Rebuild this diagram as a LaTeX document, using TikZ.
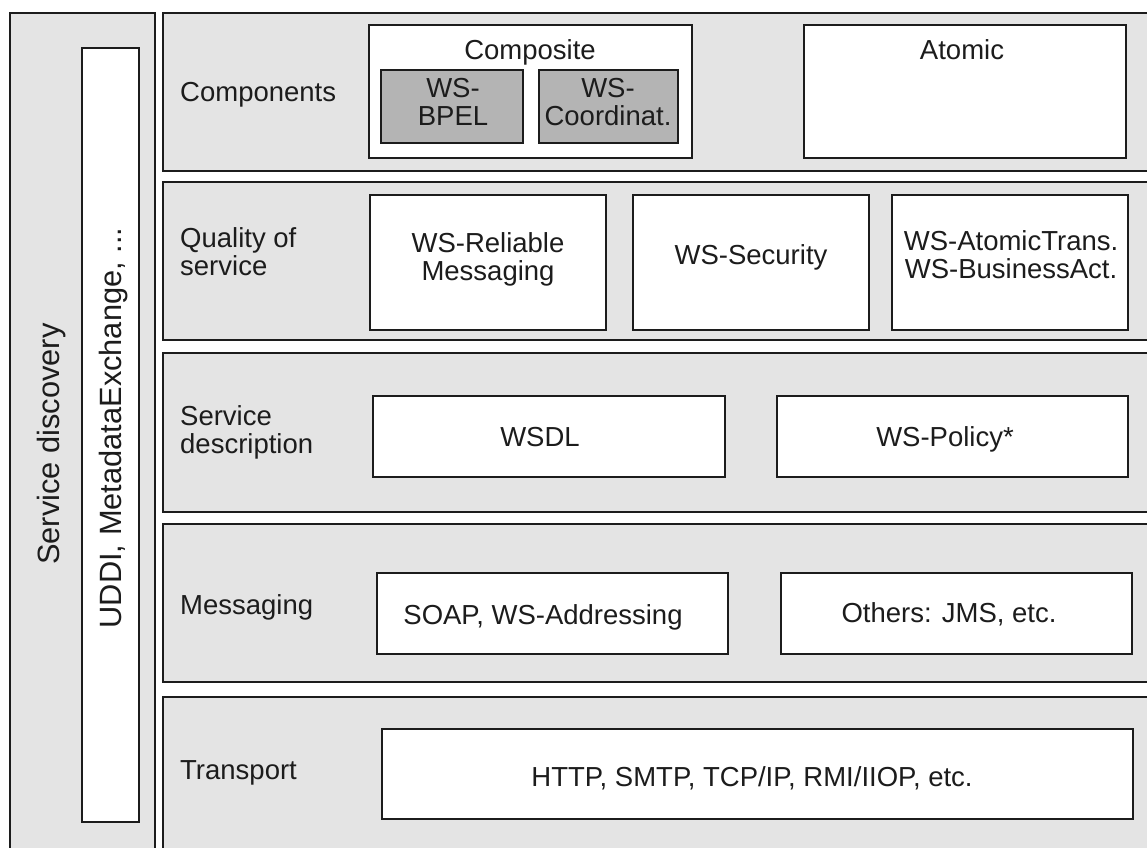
\documentclass[tikz,border=0pt]{standalone}
\usepackage{fontspec}
\setmainfont{Liberation Sans}
\definecolor{panel}{HTML}{E4E4E4}
\definecolor{inner}{HTML}{B4B4B4}
\definecolor{ink}{HTML}{1C1C1C}
\begin{document}
\begin{tikzpicture}[x=1pt,y=-1pt,
  font=\fontsize{27.5}{28}\selectfont,
  frame/.style={draw=ink, line width=2.5pt, inner sep=0pt, outer sep=0pt, anchor=north west},
  layer/.style={frame, fill=panel},
  box/.style={frame, fill=white},
  subbox/.style={frame, fill=inner},
  txt/.style={text=ink, inner sep=0pt, text height=19.8pt, text depth=0pt},
  vtxt/.style={text=ink, inner sep=0pt, rotate=90, font=\fontsize{30.8}{32}\selectfont,
               text height=22.1pt, text depth=0pt},
  multi/.style={text=ink, inner sep=0pt, anchor=north, align=center},
  side/.style={text=ink, inner sep=0pt, anchor=north west, align=left},
]
\useasboundingbox (0,0) rectangle (1147,847);
\clip (0,0) rectangle (1147,847);

% service discovery column
\node[layer, minimum width=145pt, minimum height=857pt] (disc) at (10,13) {};
\node[box, minimum width=57pt, minimum height=774pt] (uddi) at (82,48) {};
\node[vtxt] (discT) at (48,444) {Service discovery};
\node[vtxt] (uddiT) at (110,428) {UDDI, MetadataExchange, ...};

% stacked layers
\node[layer, minimum width=1000pt, minimum height=158pt] (comp) at (163,13) {};
\node[layer, minimum width=1000pt, minimum height=158pt] (qos)  at (163,182) {};
\node[layer, minimum width=1000pt, minimum height=159pt] (desc) at (163,353) {};
\node[layer, minimum width=1000pt, minimum height=158pt] (msg)  at (163,524) {};
\node[layer, minimum width=1000pt, minimum height=180pt] (trans) at (163,697) {};

% layer names
\node[txt, anchor=west] (compT) at (180,92) {Components};
\node[side] (qosT) at (180,227) {Quality of\\service};
\node[side] (descT) at (180,405) {Service\\description};
\node[txt, anchor=west] (msgT) at (180,605) {Messaging};
\node[txt, anchor=west] (transT) at (180,770) {Transport};

% components
\node[box, minimum width=323pt, minimum height=133pt] (composite) at (369,25) {};
\node[txt] (compositeT) at (530,50) {Composite};
\node[subbox, minimum width=142pt, minimum height=73pt] (bpel) at (381,70) {};
\node[multi] (bpelT) at (453,78) {WS-\\BPEL};
\node[subbox, minimum width=139pt, minimum height=73pt] (coord) at (539,70) {};
\node[multi] (coordT) at (608,78) {WS-\\Coordinat.};
\node[box, minimum width=322pt, minimum height=133pt] (atomic) at (804,25) {};
\node[txt] (atomicT) at (962,50) {Atomic};

% quality of service
\node[box, minimum width=236pt, minimum height=135pt] (rel) at (370,195) {};
\node[multi] (relT) at (488,232) {WS-Reliable\\Messaging};
\node[box, minimum width=236pt, minimum height=135pt] (sec) at (633,195) {};
\node[txt] (secT) at (751,255) {WS-Security};
\node[box, minimum width=236pt, minimum height=135pt] (trx) at (892,195) {};
\node[multi] (trxT) at (1011,230) {WS-AtomicTrans.\\WS-BusinessAct.};

% service description
\node[box, minimum width=352pt, minimum height=81pt] (wsdl) at (373,396) {};
\node[txt] (wsdlT) at (540,437) {WSDL};
\node[box, minimum width=351pt, minimum height=81pt] (policy) at (777,396) {};
\node[txt] (policyT) at (945,437) {WS-Policy*};

% messaging
\node[box, minimum width=351pt, minimum height=81pt] (soap) at (377,573) {};
\node[txt] (soapT) at (543,615) {SOAP, WS-Addressing};
\node[box, minimum width=351pt, minimum height=81pt] (others) at (781,573) {};
\node[txt] (othersT) at (949,613) {Others: JMS, etc.};

% transport
\node[box, minimum width=751pt, minimum height=90pt] (http) at (382,729) {};
\node[txt] (httpT) at (752,777) {HTTP, SMTP, TCP/IP, RMI/IIOP, etc.};
\end{tikzpicture}
\end{document}
